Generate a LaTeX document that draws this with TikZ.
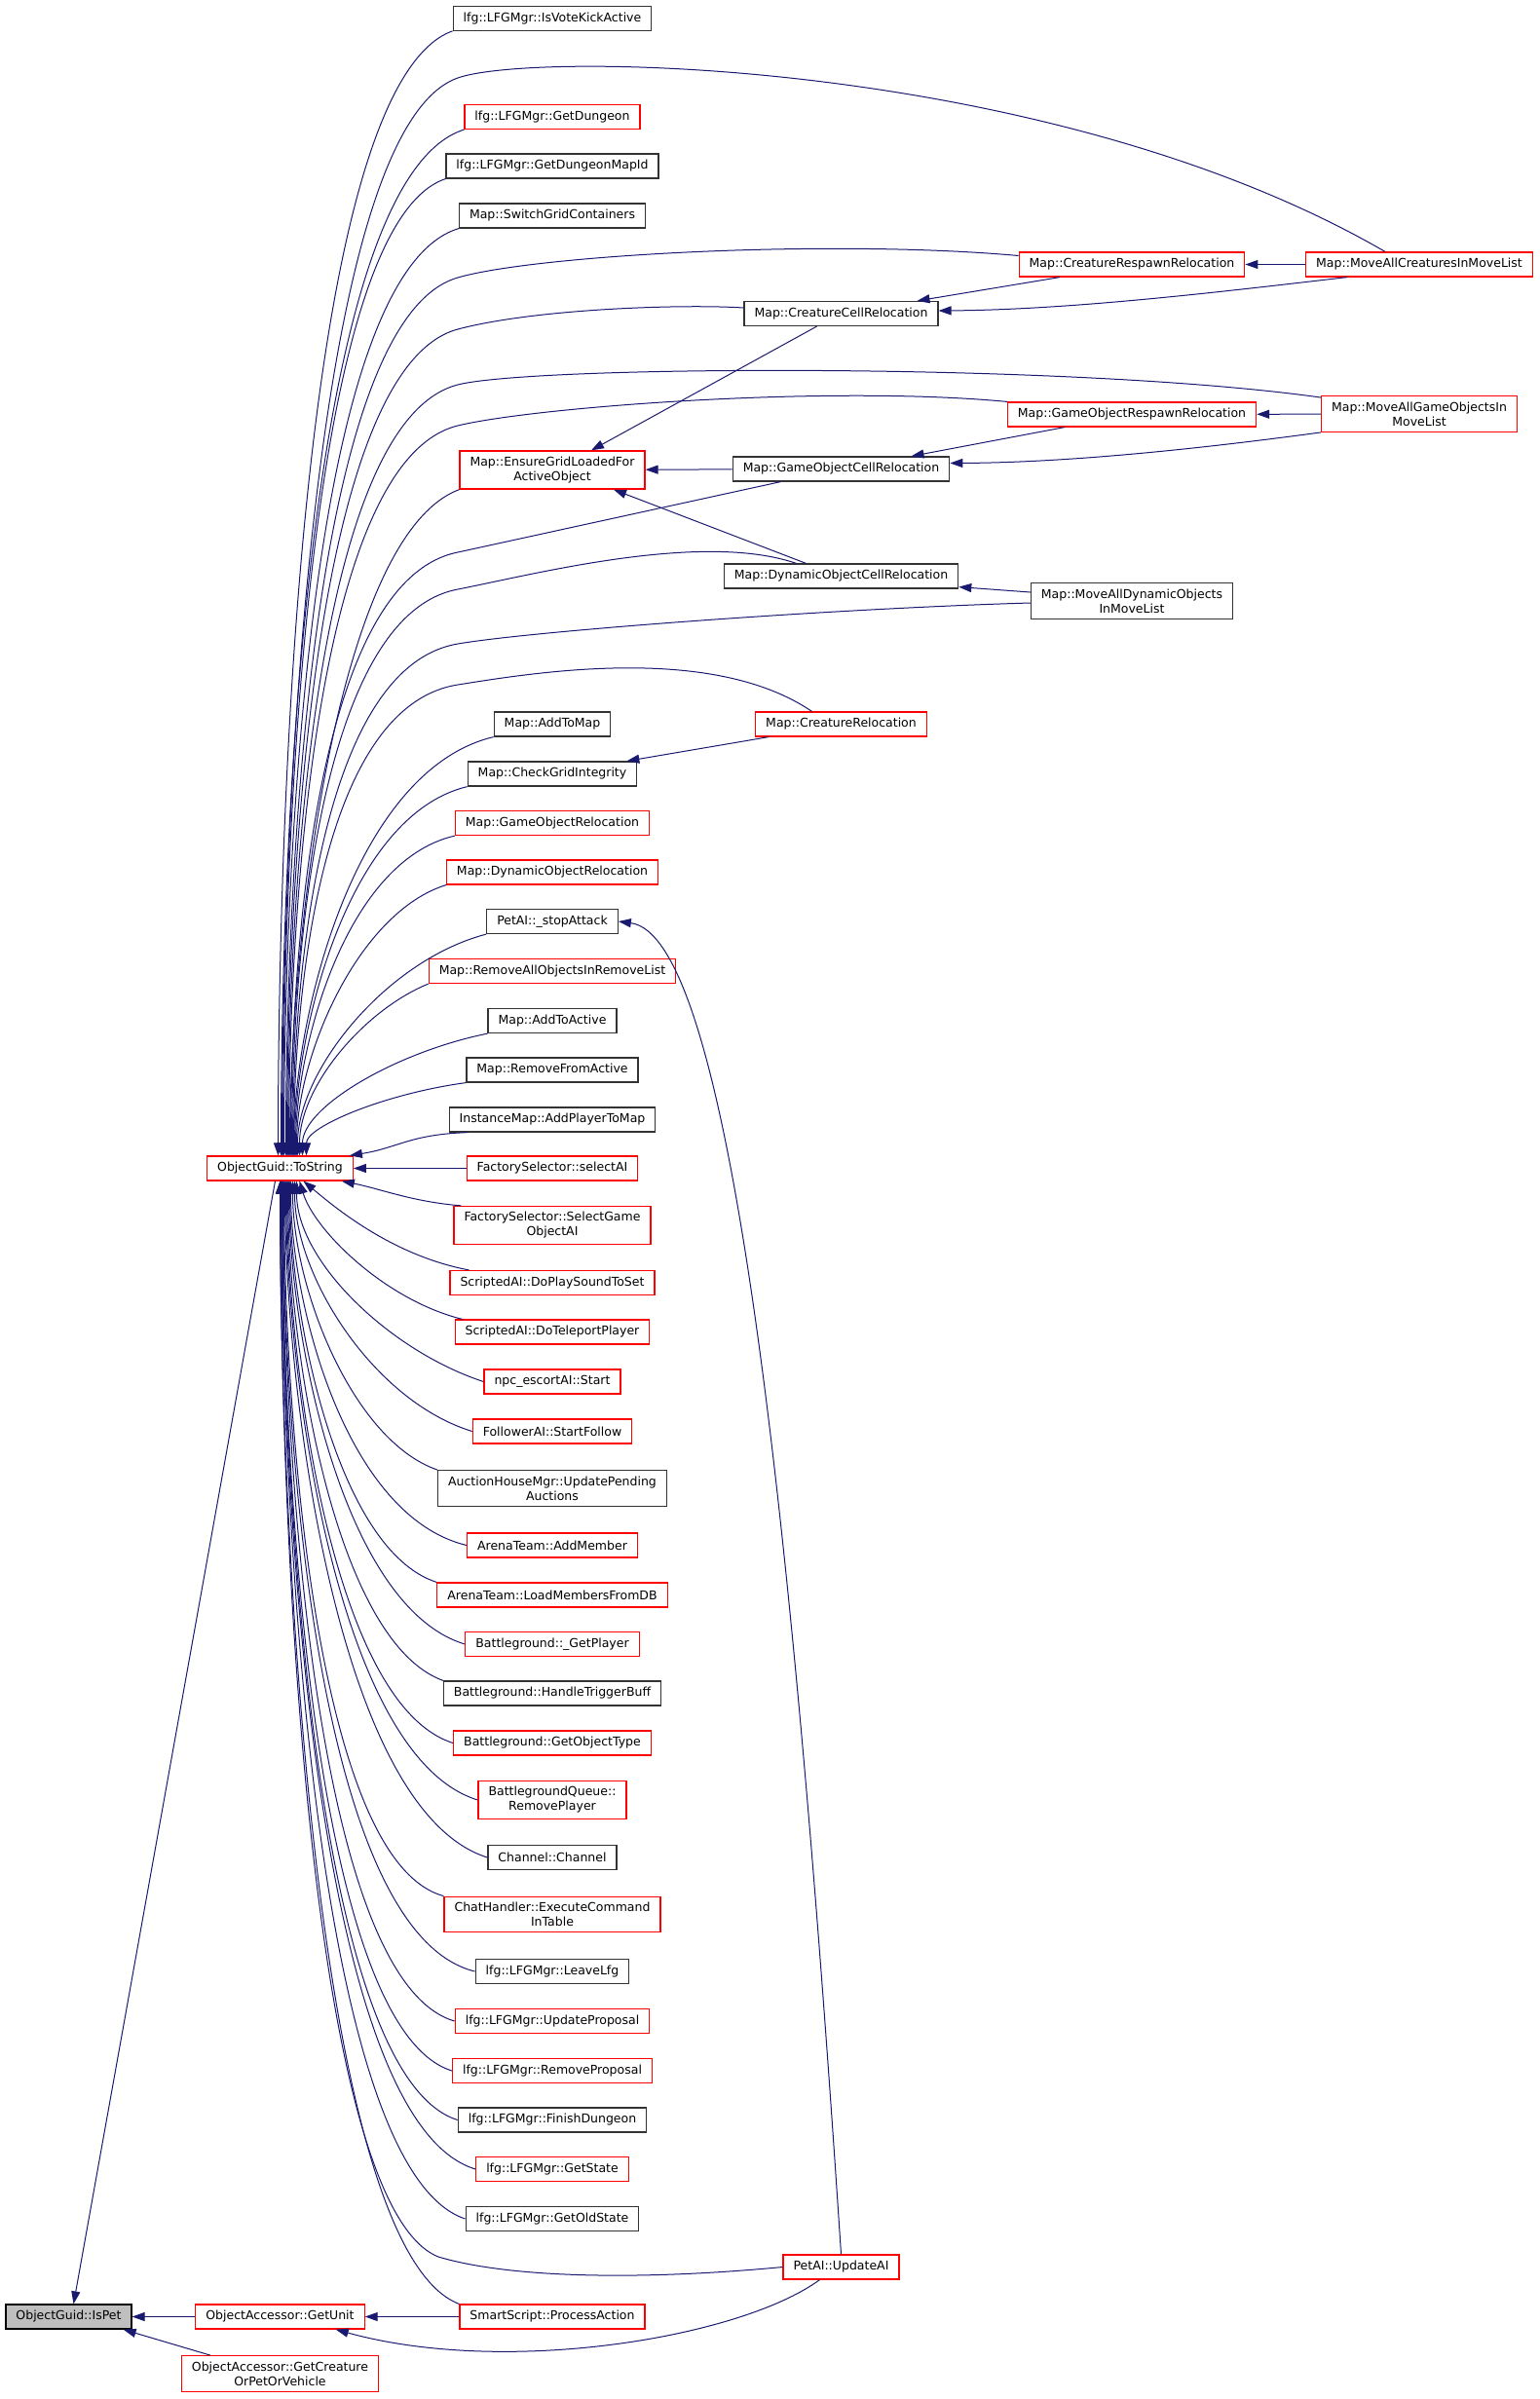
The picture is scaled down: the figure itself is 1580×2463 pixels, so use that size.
\documentclass[tikz,border=0pt]{standalone}
\usepackage{fontspec}
\setmainfont{DejaVu Sans}
\usepackage{xcolor}
\usetikzlibrary{arrows.meta}
\definecolor{edgeblue}{RGB}{25,25,112}

\begin{document}
\begin{tikzpicture}[
    x=1pt, y=-1pt,
    box/.style={rectangle, draw, line width=1.2pt, fill=white, align=center, font=\fontsize{12.5}{15}\selectfont, inner xsep=10.5pt, inner ysep=6pt, minimum height=25pt},
    linkbox/.style={box, draw=black!80},
    warnbox/.style={box, draw=red},
    rootbox/.style={box, draw=black, fill=black!25},
    arrow/.style={->, >={Triangle[length=13pt, width=9pt]}, line width=1pt, color=edgeblue}
]
    \useasboundingbox (0, 0) rectangle (1580, 2463);

    % Function under study and its direct callers.
    \node[rootbox] (ispet)       at (70.5, 2378.5)  {ObjectGuid::IsPet};
    \node[warnbox] (tostring)    at (287.5, 1199.5) {ObjectGuid::ToString};
    \node[warnbox] (getunit)     at (287.5, 2378.5) {ObjectAccessor::GetUnit};
    \node[warnbox] (getcreature) at (287.5, 2437)   {ObjectAccessor::GetCreature\\OrPetOrVehicle};

    % Callers of ObjectGuid::ToString.
    \node[linkbox] (votekick)        at (567, 18.7)   {lfg::LFGMgr::IsVoteKickActive};
    \node[warnbox] (getdungeon)      at (567, 120)    {lfg::LFGMgr::GetDungeon};
    \node[linkbox] (dungeonmapid)    at (567, 170.5)  {lfg::LFGMgr::GetDungeonMapId};
    \node[linkbox] (switchgrid)      at (567, 221.5)  {Map::SwitchGridContainers};
    \node[warnbox] (ensuregrid)      at (567, 482.5)  {Map::EnsureGridLoadedFor\\ActiveObject};
    \node[linkbox] (addtomap)        at (567, 743.5)  {Map::AddToMap};
    \node[linkbox] (checkgrid)       at (567, 794.5)  {Map::CheckGridIntegrity};
    \node[warnbox] (gorelocation)    at (567, 845)    {Map::GameObjectRelocation};
    \node[warnbox] (dynrelocation)   at (567, 895.5)  {Map::DynamicObjectRelocation};
    \node[linkbox] (stopattack)      at (567, 946)    {PetAI::\_stopAttack};
    \node[warnbox] (removeall)       at (567, 997)    {Map::RemoveAllObjectsInRemoveList};
    \node[linkbox] (addtoactive)     at (567, 1048)   {Map::AddToActive};
    \node[linkbox] (removeactive)    at (567, 1098.5) {Map::RemoveFromActive};
    \node[linkbox] (addplayer)       at (567, 1149.5) {InstanceMap::AddPlayerToMap};
    \node[warnbox] (selectai)        at (567, 1199.5) {FactorySelector::selectAI};
    \node[warnbox] (selectgoai)      at (567, 1258)   {FactorySelector::SelectGame\\ObjectAI};
    \node[warnbox] (playsound)       at (567, 1317)   {ScriptedAI::DoPlaySoundToSet};
    \node[warnbox] (teleport)        at (567, 1367.5) {ScriptedAI::DoTeleportPlayer};
    \node[warnbox] (escort)          at (567, 1418.5) {npc\_escortAI::Start};
    \node[warnbox] (startfollow)     at (567, 1469.5) {FollowerAI::StartFollow};
    \node[linkbox] (pending)         at (567, 1528)   {AuctionHouseMgr::UpdatePending\\Auctions};
    \node[warnbox] (addmember)       at (567, 1586.5) {ArenaTeam::AddMember};
    \node[warnbox] (loadmembers)     at (567, 1637.5) {ArenaTeam::LoadMembersFromDB};
    \node[warnbox] (getplayer)       at (567, 1688)   {Battleground::\_GetPlayer};
    \node[linkbox] (triggerbuff)     at (567, 1738.5) {Battleground::HandleTriggerBuff};
    \node[warnbox] (objecttype)      at (567, 1789.5) {Battleground::GetObjectType};
    \node[warnbox] (removeplayer)    at (567, 1848)   {BattlegroundQueue::\\RemovePlayer};
    \node[linkbox] (channel)         at (567, 1907)   {Channel::Channel};
    \node[warnbox] (execcommand)     at (567, 1965.5) {ChatHandler::ExecuteCommand\\InTable};
    \node[linkbox] (leavelfg)        at (567, 2024)   {lfg::LFGMgr::LeaveLfg};
    \node[warnbox] (updateproposal)  at (567, 2075)   {lfg::LFGMgr::UpdateProposal};
    \node[warnbox] (removeproposal)  at (567, 2126)   {lfg::LFGMgr::RemoveProposal};
    \node[linkbox] (finishdungeon)   at (567, 2176.5) {lfg::LFGMgr::FinishDungeon};
    \node[warnbox] (getstate)        at (567, 2227)   {lfg::LFGMgr::GetState};
    \node[linkbox] (getoldstate)     at (567, 2278)   {lfg::LFGMgr::GetOldState};
    \node[warnbox] (processaction)   at (567, 2378.5) {SmartScript::ProcessAction};

    % Deeper callers.
    \node[linkbox] (creaturecell)       at (863.5, 322)    {Map::CreatureCellRelocation};
    \node[linkbox] (gocell)             at (863.5, 481.5)  {Map::GameObjectCellRelocation};
    \node[linkbox] (dyncell)            at (863.5, 591.5)  {Map::DynamicObjectCellRelocation};
    \node[warnbox] (creaturerelocation) at (863.5, 743.5)  {Map::CreatureRelocation};
    \node[warnbox] (updateai)           at (863.5, 2327.5) {PetAI::UpdateAI};
    \node[warnbox] (creaturerespawn)    at (1162, 271.5)   {Map::CreatureRespawnRelocation};
    \node[warnbox] (gorespawn)          at (1162, 425.5)   {Map::GameObjectRespawnRelocation};
    \node[linkbox] (movealldyn)         at (1162, 617)     {Map::MoveAllDynamicObjects\\InMoveList};
    \node[warnbox] (moveallcreatures)   at (1457, 271.5)   {Map::MoveAllCreaturesInMoveList};
    \node[warnbox] (moveallgo)          at (1457, 425)     {Map::MoveAllGameObjectsIn\\MoveList};

    % Fan into ObjectGuid::ToString from above.
    \draw[arrow] (votekick.south west) .. controls +(-162, 58) and +(0, -289) .. ([xshift=-2pt]tostring.north);
    \draw[arrow] (getdungeon.south west) .. controls +(-169, 53) and +(0, -264) .. ([xshift=1pt]tostring.north);
    \draw[arrow] (dungeonmapid.south west) .. controls +(-150, 50) and +(0, -251) .. ([xshift=3pt]tostring.north);
    \draw[arrow] (switchgrid.south west) .. controls +(-161, 48) and +(0, -238) .. ([xshift=4pt]tostring.north);
    \draw[arrow] (ensuregrid.south west) .. controls +(-129, 48) and +(0, -206) .. ([xshift=10pt]tostring.north);
    \draw[arrow] (addtomap.south west) .. controls +(-143, 34) and +(0, -142) .. ([xshift=14pt]tostring.north);
    \draw[arrow] (checkgrid.south west) .. controls +(-124, 30) and +(0, -125) .. ([xshift=15pt]tostring.north);
    \draw[arrow] (gorelocation.south west) .. controls +(-113, 26) and +(0, -109) .. ([xshift=16pt]tostring.north);
    \draw[arrow] (dynrelocation.south west) .. controls +(-90, 28) and +(0, -103) .. ([xshift=17pt]tostring.north);
    \draw[arrow] (stopattack.south west) .. controls +(-103, 27) and +(0, -87) .. ([xshift=18pt]tostring.north);
    \draw[arrow] (removeall.south west) .. controls +(-66, 27) and +(0, -71) .. ([xshift=20pt]tostring.north);
    \draw[arrow] (addtoactive.south west) .. controls +(-94, 19) and +(0, -50) .. ([xshift=23pt]tostring.north);
    \draw[arrow] (removeactive.south west) .. controls +(-82, 11) and +(0, -30) .. ([xshift=27pt]tostring.north);
    \draw[arrow] ([xshift=20pt]addplayer.south west) .. controls +(-60, 2) and +(50, -8) .. ([xshift=-4pt]tostring.north east);
    \draw[arrow] (selectai) -- (tostring);

    % Long ones from the relocation chain.
    \draw[arrow] ([xshift=-35pt]moveallcreatures.north) .. controls (1080, 60) and (549, 52) .. (470, 80) .. controls (312, 135) and (289.5, 910) .. ([xshift=2pt]tostring.north);
    \draw[arrow] ([yshift=9pt]creaturerespawn.west) .. controls (850, 245) and (549, 262) .. (470, 285) .. controls (312, 330) and (293.5, 962) .. ([xshift=6pt]tostring.north);
    \draw[arrow] ([yshift=6pt]creaturecell.west) .. controls (700, 312) and (549, 317) .. (470, 338) .. controls (312, 380) and (294.5, 975) .. ([xshift=7pt]tostring.north);
    \draw[arrow] ([yshift=-2pt]moveallgo.north west) .. controls (1100, 372) and (548, 375) .. (470, 395) .. controls (313, 435) and (295.5, 989) .. ([xshift=8pt]tostring.north);
    \draw[arrow] (gorespawn.north west) .. controls (850, 395) and (548, 418) .. (470, 437) .. controls (314, 475) and (296.5, 999) .. ([xshift=9pt]tostring.north);
    \draw[arrow] ([xshift=-62pt]gocell.south) -- (470, 567) .. controls (314, 598) and (298.5, 1032) .. ([xshift=11pt]tostring.north);
    \draw[arrow] ([xshift=-46pt]dyncell.north) .. controls (720, 545) and (547, 590) .. (470, 605) .. controls (316, 634) and (299.5, 1041) .. ([xshift=12pt]tostring.north);
    \draw[arrow] ([yshift=-2pt]movealldyn.west) .. controls (850, 625) and (546, 648) .. (470, 661) .. controls (317, 687) and (300.5, 1055) .. ([xshift=13pt]tostring.north);
    \draw[arrow] ([xshift=-30pt]creaturerelocation.north) .. controls (730, 660) and (546, 691) .. (470, 703) .. controls (318, 727) and (301.5, 1066) .. ([xshift=14pt]tostring.north);

    % Fan into ObjectGuid::ToString from below.
    \draw[arrow] ([xshift=8pt]selectgoai.north west) .. controls +(-50, -4) and +(40, 8) .. ([xshift=-12pt]tostring.south east);
    \draw[arrow] ([xshift=20pt]playsound.north west) .. controls +(-80, -15) and +(30, 25) .. ([xshift=24pt]tostring.south);
    \draw[arrow] ([xshift=8pt]teleport.north west) .. controls +(-80, -20) and +(15, 50) .. ([xshift=20pt]tostring.south);
    \draw[arrow] (escort.west) .. controls +(-95, -31) and +(0, 83) .. ([xshift=17pt]tostring.south);
    \draw[arrow] (startfollow.west) .. controls +(-101, -31) and +(0, 98) .. ([xshift=15pt]tostring.south);
    \draw[arrow] (pending.north west) .. controls +(-87, -30) and +(0, 110) .. ([xshift=13pt]tostring.south);
    \draw[arrow] (addmember.west) .. controls +(-125, -30) and +(0, 124) .. ([xshift=11pt]tostring.south);
    \draw[arrow] (loadmembers.north west) .. controls +(-103, -33) and +(0, 136) .. ([xshift=10pt]tostring.south);
    \draw[arrow] (getplayer.west) .. controls +(-126, -38) and +(0, 157) .. ([xshift=9pt]tostring.south);
    \draw[arrow] (triggerbuff.north west) .. controls +(-112, -41) and +(0, 170) .. ([xshift=8pt]tostring.south);
    \draw[arrow] (objecttype.west) .. controls +(-127, -40) and +(0, 173) .. ([xshift=7pt]tostring.south);
    \draw[arrow] (removeplayer.west) .. controls +(-147, -45) and +(0, 191) .. ([xshift=6pt]tostring.south);
    \draw[arrow] (channel.west) .. controls +(-156, -49) and +(0, 209) .. ([xshift=5pt]tostring.south);
    \draw[arrow] (execcommand.north west) .. controls +(-137, -37) and +(0, 206) .. ([xshift=4pt]tostring.south);
    \draw[arrow] (leavelfg.west) .. controls +(-168, -41) and +(0, 227) .. ([xshift=3pt]tostring.south);
    \draw[arrow] (updateproposal.west) .. controls +(-149, -43) and +(0, 242) .. ([xshift=3pt]tostring.south);
    \draw[arrow] (removeproposal.west) .. controls +(-148, -46) and +(0, 256) .. ([xshift=2pt]tostring.south);
    \draw[arrow] (finishdungeon.west) .. controls +(-153, -48) and +(0, 270) .. ([xshift=2pt]tostring.south);
    \draw[arrow] (getstate.west) .. controls +(-170, -51) and +(0, 284) .. ([xshift=1pt]tostring.south);
    \draw[arrow] (getoldstate.west) .. controls +(-160, -53) and +(0, 298) .. ([xshift=1pt]tostring.south);
    \draw[arrow] (processaction.north west) .. controls +(-153, -58) and +(0, 323) .. (tostring.south);
    \draw[arrow] (updateai.west) .. controls (650, 2342) and (520, 2338) .. (450, 2317) .. controls (312, 2262) and (287.5, 1521) .. (tostring.south);

    % Bottom rows.
    \draw[arrow] (processaction) -- (getunit);
    \draw[arrow] ([xshift=-22pt]updateai.south) .. controls (760, 2400) and (520, 2440) .. ([xshift=-30pt]getunit.south east);
    \draw[arrow] (updateai.north) .. controls (810, 1500) and (745, 960) .. (stopattack.east);
    \draw[arrow] (getunit) -- (ispet);
    \draw[arrow] ([xshift=30pt]getcreature.north west) -- ([xshift=-9pt]ispet.south east);
    \draw[arrow] ([xshift=-5pt]tostring.south) -- ([xshift=5pt]ispet.north);

    % Relocation chain.
    \draw[arrow] ([xshift=-25pt]creaturecell.south) -- ([xshift=40pt]ensuregrid.north);
    \draw[arrow] (gocell) -- (ensuregrid);
    \draw[arrow] ([xshift=-36pt]dyncell.north) -- ([xshift=63pt]ensuregrid.south);
    \draw[arrow] ([xshift=-74pt]creaturerespawn.south) -- ([xshift=78pt]creaturecell.north);
    \draw[arrow] ([xshift=-74pt]moveallcreatures.south) .. controls (1250, 300) and (1100, 318) .. ([yshift=3pt]creaturecell.east);
    \draw[arrow] (moveallcreatures) -- (creaturerespawn);
    \draw[arrow] ([xshift=-69pt]gorespawn.south) -- ([xshift=72pt]gocell.north);
    \draw[arrow] (moveallgo.south west) .. controls (1200, 465) and (1080, 475) .. ([yshift=6pt]gocell.east);
    \draw[arrow] (moveallgo) -- (gorespawn);
    \draw[arrow] ([yshift=9pt]movealldyn.west) -- ([yshift=2pt]dyncell.south east);
    \draw[arrow] ([xshift=14pt]creaturerelocation.south west) -- ([xshift=-11pt]checkgrid.north east);

\end{tikzpicture}
\end{document}
